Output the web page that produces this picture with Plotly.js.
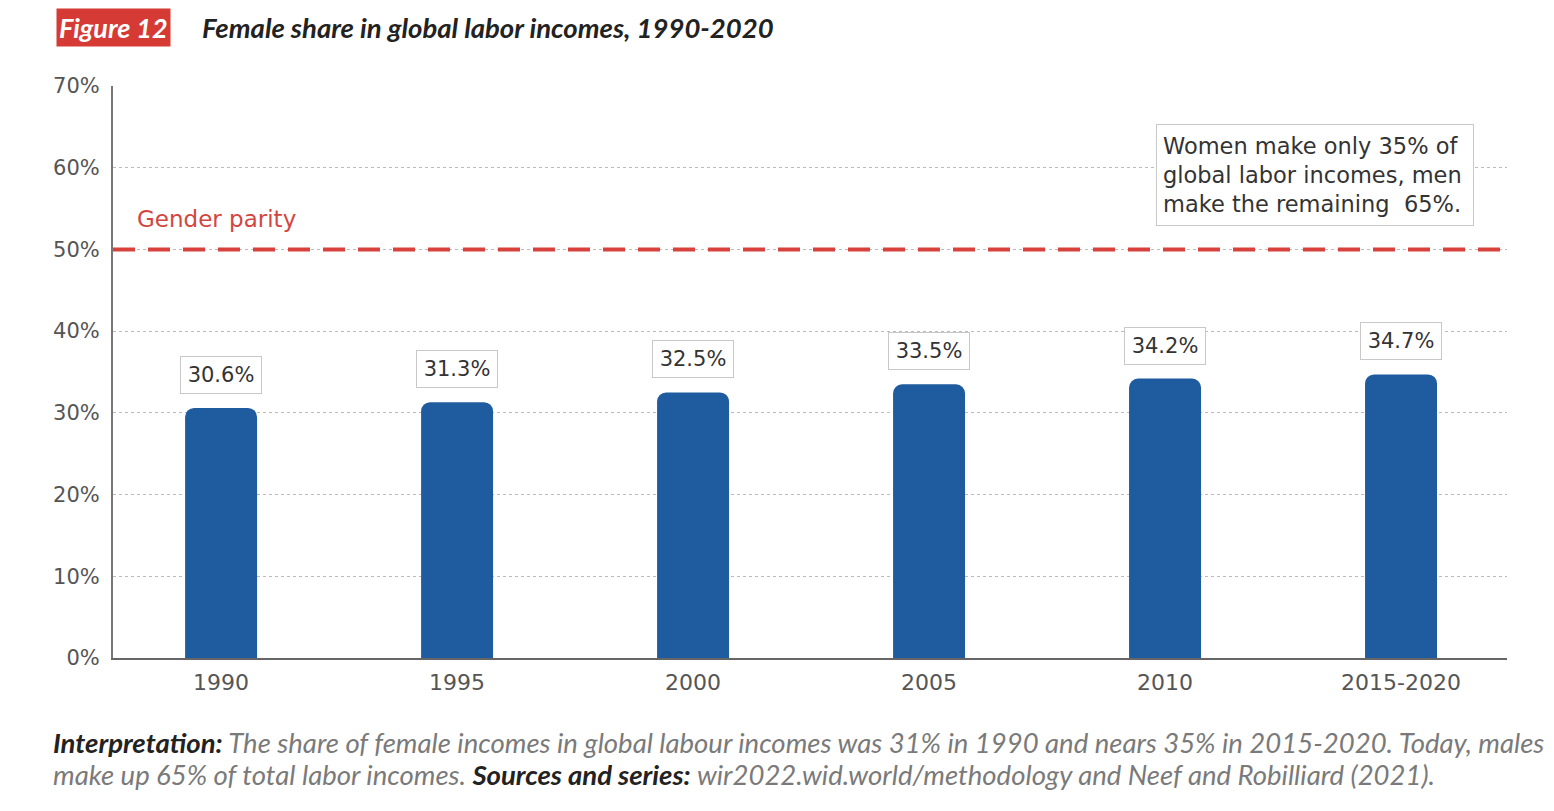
<!DOCTYPE html>
<html><head><meta charset="utf-8">
<script src="https://cdn.plot.ly/plotly-3.0.1.min.js"></script>
<style>body{margin:0;background:#fff;} #chart{width:1554px;height:811px;}</style>
</head><body><div id="chart"></div>
<script>
const categories = ["1990","1995","2000","2005","2010","2015-2020"];
const femaleShare = [30.6, 31.3, 32.5, 33.5, 34.2, 34.7];
const labels = ["30.6%","31.3%","32.5%","33.5%","34.2%","34.7%"];
const parity = 50;
const yTicks = [0,10,20,30,40,50,60,70];
const yTickText = ["0%","10%","20%","30%","40%","50%","60%","70%"];

const SANS = 'DejaVu Sans, sans-serif';
const LATO = 'Lato, sans-serif';

const trace = {
  type: 'bar', x: categories, y: femaleShare, width: 0.305,
  marker: {color: '#1f5b9f', cornerradius: 9}, hoverinfo: 'skip'
};

const ann = categories.map((c, i) => ({
  x: i, y: femaleShare[i], xref: 'x', yref: 'y', text: labels[i],
  showarrow: false, yanchor: 'bottom', yshift: 14,
  font: {family: SANS, size: 21, color: '#333'},
  width: 72, height: 28,
  bgcolor: '#fff', bordercolor: '#c8c8c8', borderwidth: 1, borderpad: 4
}));
ann.push({
  x: 0.016, xref: 'paper', y: parity, yref: 'y', yanchor: 'bottom', xanchor: 'left', yshift: 15,
  text: 'Gender parity', showarrow: false,
  font: {family: SANS, size: 23, color: '#d2463f'}
});
ann.push({
  x: 0.862, xref: 'paper', y: 59.05, yref: 'y', xanchor: 'center', yanchor: 'middle',
  text: 'Women make only 35% of<br>global labor incomes, men<br>make the remaining  65%.',
  align: 'left', showarrow: false, width: 304, height: 88,
  font: {family: SANS, size: 22.5, color: '#333'},
  bgcolor: '#fff', bordercolor: '#c8c8c8', borderwidth: 1, borderpad: 6
});
ann.push(
  {xref: 'paper', yref: 'paper', x: 0.0007, y: 1.1014, xanchor: 'center', yanchor: 'middle',
   showarrow: false, text: '<b><i>Figure 12</i></b>',
   font: {family: LATO, size: 27, color: '#fff'},
   bgcolor: '#d63a35', borderpad: 2},
  {xref: 'paper', yref: 'paper', x: 0.0624, y: 1.1014, xanchor: 'left', yanchor: 'middle',
   showarrow: false, text: '<b><i>Female share in global labor incomes, 1990-2020</i></b>',
   font: {family: LATO, size: 27.5, color: '#222'}},
  {xref: 'paper', yref: 'paper', x: -0.0445, y: -0.1486, xanchor: 'left', yanchor: 'middle',
   showarrow: false, align: 'left',
   text: '<b><i><span style="color:#222">Interpretation:</span></i></b><i> The share of female incomes in global labour incomes was 31% in 1990 and nears 35% in 2015-2020. Today, males</i>',
   font: {family: LATO, size: 27.5, color: '#7a7a7a'}},
  {xref: 'paper', yref: 'paper', x: -0.0445, y: -0.2045, xanchor: 'left', yanchor: 'middle',
   showarrow: false, align: 'left',
   text: '<i>make up 65% of total labor incomes. </i><b><i><span style="color:#222">Sources and series:</span></i></b><i> wir2022.wid.world/methodology and Neef and Robilliard (2021).</i>',
   font: {family: LATO, size: 27.5, color: '#7a7a7a'}}
);

const layout = {
  width: 1554, height: 811,
  margin: {l: 113, r: 47, t: 86, b: 153},
  paper_bgcolor: '#fff', plot_bgcolor: '#fff',
  showlegend: false,
  font: {family: SANS},
  xaxis: {
    type: 'category', range: [-0.458, 5.449],
    showline: true, linecolor: '#666', linewidth: 1.5,
    showgrid: false, ticks: '', ticklabelstandoff: 4,
    tickfont: {family: SANS, size: 22, color: '#555'},
    fixedrange: true
  },
  yaxis: {
    range: [0, 70], tickvals: yTicks, ticktext: yTickText,
    showline: true, linecolor: '#777', linewidth: 2,
    showgrid: true, gridcolor: '#bbb', griddash: 'dot', gridwidth: 1,
    zeroline: false, ticks: '', ticklabelstandoff: 7,
    tickfont: {family: SANS, size: 21, color: '#555'},
    fixedrange: true
  },
  shapes: [{
    type: 'line', xref: 'paper', x0: 0, x1: 1, yref: 'y', y0: parity, y1: parity,
    line: {color: '#d9423c', width: 4, dash: '22px,13px'}, layer: 'above'
  }],
  annotations: ann
};

Plotly.newPlot('chart', [trace], layout, {displayModeBar: false, staticPlot: true});
</script></body></html>
